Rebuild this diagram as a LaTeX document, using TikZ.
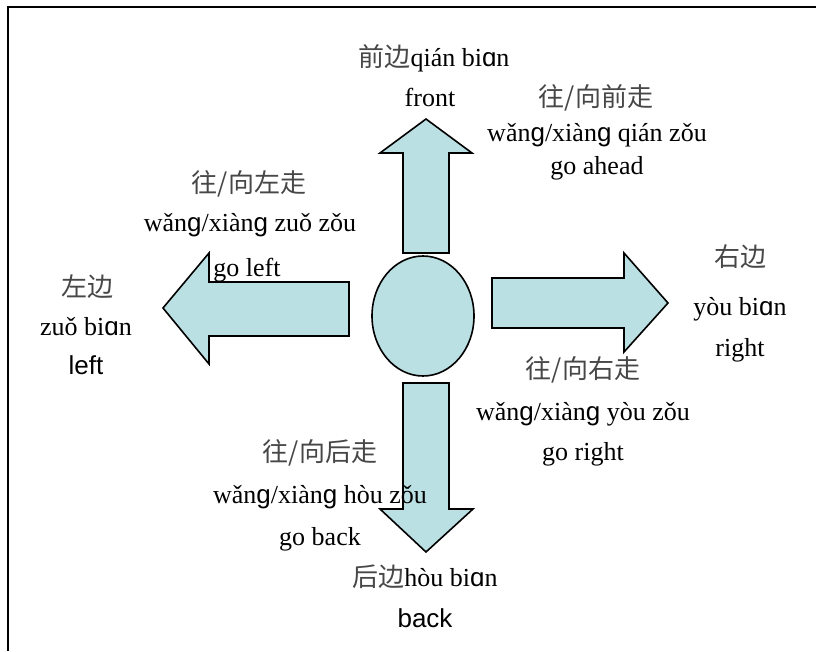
\documentclass[tikz,border=0pt]{standalone}
\usepackage{fontspec}
\usetikzlibrary{shapes.geometric}
\setmainfont{Liberation Serif}
\newfontfamily\cjkfont{Noto Sans CJK SC}
\newcommand{\cjk}{\cjkfont\color{black!72}}
\newfontfamily\arialf{Liberation Sans}
\newcommand{\ipg}{{\arialf ɡ}}
\newcommand{\ipa}{{\arialf ɑ}}
\definecolor{pale}{RGB}{187,224,227}
\tikzset{
  bluebody/.style={draw=black, line width=1.6pt, fill=pale, line join=miter},
  lbl/.style={inner sep=0pt, anchor=base, font=\fontsize{26}{30}\selectfont},
}
\begin{document}
\begin{tikzpicture}[x=1pt,y=-1pt]
\useasboundingbox (0,0) rectangle (816,651);
\fill[white] (0,0) rectangle (816,651);
% frame
\draw[line width=2pt] (8,651) -- (8,7) -- (816,7);
% central ellipse
\node[bluebody, ellipse, minimum width=102pt, minimum height=120pt, inner sep=0pt] (c) at (423,316) {};
% up arrow
\filldraw[bluebody] (403,253) -- (403,153) -- (380,153) -- (426,119) -- (472,153) -- (449,153) -- (449,253) -- cycle;
% down arrow
\filldraw[bluebody] (403,383) -- (403,509) -- (380,509) -- (426,552) -- (473,509) -- (449,509) -- (449,383) -- cycle;
% left arrow
\filldraw[bluebody] (349,282) -- (209,282) -- (209,253) -- (163,308) -- (209,364) -- (209,336) -- (349,336) -- cycle;
% right arrow
\filldraw[bluebody] (492,278) -- (624,278) -- (624,253) -- (668,303) -- (624,352) -- (624,328) -- (492,328) -- cycle;
% texts: front
\node[lbl] (f1) at (434,66) {{\cjk 前边}qián bi\ipa n};
\node[lbl] (f2) at (430,106) {front};
\node[lbl] (fa1) at (596,106) {\cjk 往/向前走};
\node[lbl] (fa2) at (597,141) {wǎn\ipg/xiàn\ipg{} qián zǒu};
\node[lbl] (fa3) at (597,174) {go ahead};
% left
\node[lbl] (lw1) at (249,192) {\cjk 往/向左走};
\node[lbl] (lw2) at (250,231) {wǎn\ipg/xiàn\ipg{} zuǒ zǒu};
\node[lbl] (lw3) at (247,276) {go left};
\node[lbl] (l1) at (87,296) {\cjk 左边};
\node[lbl] (l2) at (86,335) {zuǒ bi\ipa n};
\node[lbl] (l3) at (86,374) {\arialf left};
% right
\node[lbl] (r1) at (740,266) {\cjk 右边};
\node[lbl] (r2) at (740,315) {yòu bi\ipa n};
\node[lbl] (r3) at (740,356) {right};
\node[lbl] (rw1) at (583,378) {\cjk 往/向右走};
\node[lbl] (rw2) at (583,420) {wǎn\ipg/xiàn\ipg{} yòu zǒu};
\node[lbl] (rw3) at (583,460) {go right};
% back
\node[lbl] (bw1) at (320,461) {\cjk 往/向后走};
\node[lbl] (bw2) at (320,503) {wǎn\ipg/xiàn\ipg{} hòu zǒu};
\node[lbl] (bw3) at (320,545) {go back};
\node[lbl] (b1) at (425,586) {{\cjk 后边}hòu bi\ipa n};
\node[lbl] (b2) at (425,627) {\arialf back};
\end{tikzpicture}
\end{document}
